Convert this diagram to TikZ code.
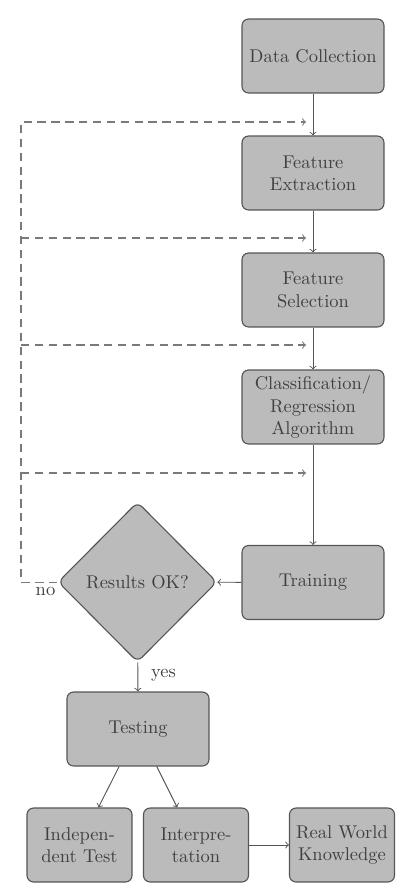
\documentclass[tikz,border=0pt]{standalone}
\usetikzlibrary{shapes.geometric}
\definecolor{boxfill}{HTML}{BBBBBB}
\definecolor{boxdraw}{HTML}{555555}
\definecolor{txt}{HTML}{404040}
\definecolor{dashc}{HTML}{7A7A7A}
\tikzset{
  procbox/.style={draw=boxdraw, fill=boxfill, rounded corners=3.5pt, line width=0.6pt,
    minimum width=76.8pt, minimum height=40pt, align=center, text=txt, inner sep=2pt},
  smallbox/.style={procbox, minimum width=56.8pt},
  decbox/.style={draw=boxdraw, fill=boxfill, diamond, rounded corners=3.5pt, line width=0.6pt,
    minimum width=86pt, minimum height=86.6pt, inner sep=0pt, align=center, text=txt},
  flow/.style={->, draw=boxdraw, line width=0.5pt},
  loopback/.style={->, draw=dashc, dashed, dash pattern=on 4.5pt off 3pt, line width=0.55pt},
  lbl/.style={text=txt, inner sep=1pt}
}
\begin{document}
\begin{tikzpicture}[x=0.541pt, y=-0.541pt]
\useasboundingbox (0,0) rectangle (417,893);
\node[procbox] (dc) at (313,56) {Data Collection};
\node[procbox] (fe) at (313,173) {Feature\\Extraction};
\node[procbox] (fs) at (313,290) {Feature\\Selection};
\node[procbox] (cr) at (313,407) {Classification/\\Regression\\Algorithm};
\node[procbox] (tr) at (313,582.5) {Training};
\node[decbox] (ok) at (137.5,582) {Results OK?};
\node[procbox] (te) at (138,729) {Testing};
\node[smallbox] (it) at (79.5,845) {Indepen-\\dent Test};
\node[smallbox] (ip) at (196,845) {Interpre-\\tation};
\node[smallbox] (rw) at (342,845) {Real World\\Knowledge};

\draw[flow] (dc) -- (fe);
\draw[flow] (fe) -- (fs);
\draw[flow] (fs) -- (cr);
\draw[flow] (cr) -- (tr);
\draw[flow] (tr) -- (ok);
\draw[flow] (ok) -- node[lbl, anchor=west, xshift=6pt, pos=0.45] {yes} (te);
\draw[flow] (te) -- (it);
\draw[flow] (te) -- (ip);
\draw[flow] (ip) -- (rw);

\coordinate (c0) at (21,582);
\coordinate (c1) at (21,122);
\coordinate (c2) at (21,238);
\coordinate (c3) at (21,345);
\coordinate (c4) at (21,473);
\coordinate (e1) at (306,122);
\coordinate (e2) at (306,238);
\coordinate (e3) at (306,345);
\coordinate (e4) at (306,473);
\draw[loopback] (ok.west) -- (c0) -- (c1) -- (e1);
\draw[loopback] (c2) -- (e2);
\draw[loopback] (c3) -- (e3);
\draw[loopback] (c4) -- (e4);
\node[lbl, anchor=north east, yshift=-1.5pt] (no) at (ok.west) {no};
\end{tikzpicture}
\end{document}
